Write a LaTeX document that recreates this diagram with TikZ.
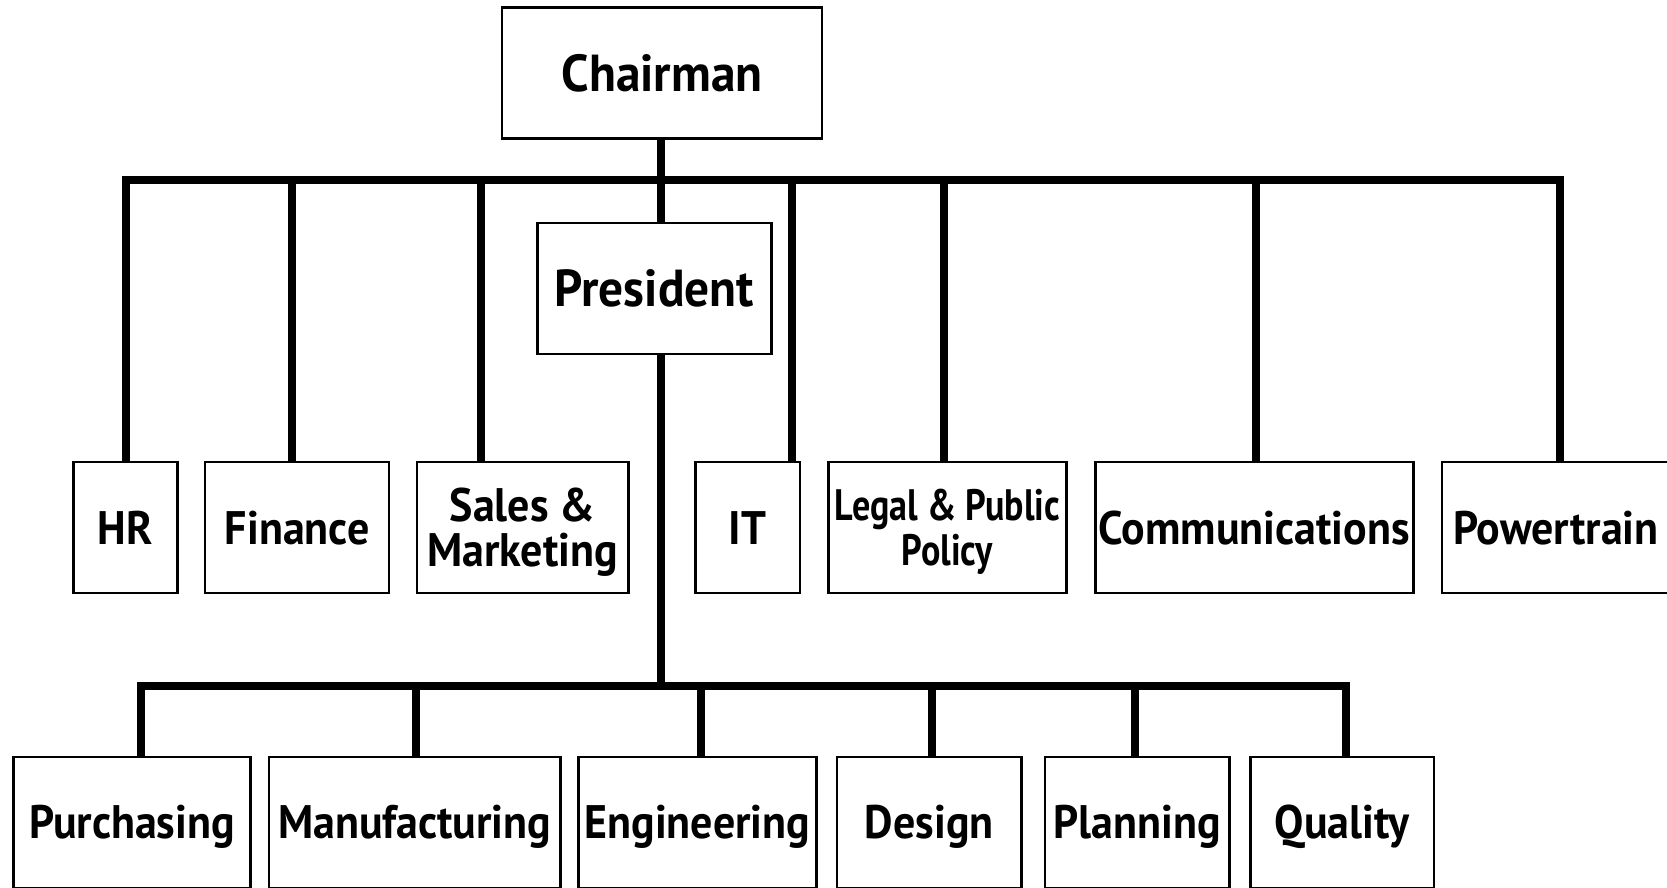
\documentclass[tikz,border=0pt]{standalone}
\usepackage{fontspec}
\newfontfamily\orgfamily[FakeStretch=0.935]{PT Sans}
\newfontfamily\orgtopfamily[FakeStretch=0.95]{PT Sans}
\newfontfamily\orgnarrowfamily[FakeStretch=0.82]{PT Sans}
\begin{document}
\begin{tikzpicture}[x=1pt,y=-1pt,
  orgbox/.style={draw=black, line width=2.5pt, fill=white, inner sep=0pt,
    minimum height=131pt, text height=33pt, text depth=0pt,
    font=\orgfamily\bfseries\fontsize{47}{45}\selectfont},
  topbox/.style={orgbox, text height=36.5pt,
    font=\orgtopfamily\bfseries\fontsize{52}{50}\selectfont},
  twoline/.style={align=center, text height=78pt, text depth=0pt},
  narrowtwoline/.style={align=center, text height=76pt, text depth=0pt,
    font=\orgnarrowfamily\bfseries\fontsize{44}{45}\selectfont},
  conn/.style={line width=8pt},
  bus/.style={line width=8pt, line cap=rect}]

\path[use as bounding box, clip] (0,0) rectangle (1667,887);
\fill[white] (0,0) rectangle (1667,887);

% top management
\node[topbox, minimum width=320pt] (chair) at (662,72.8) {Chairman};
\node[topbox, minimum width=234pt] (pres)  at (654.3,288.7) {President};

% staff functions reporting to the chairman
\node[orgbox, minimum width=104pt] (hr)    at (125.5,527.5) {HR};
\node[orgbox, minimum width=184pt] (fin)   at (297.2,527.5) {Finance};
\node[orgbox, twoline, minimum width=211.3pt] (sales) at (522.6,527.5) {Sales \&\\Marketing};
\node[orgbox, minimum width=104.5pt] (it)  at (747.5,527.5) {IT};
\node[orgbox, narrowtwoline, minimum width=238pt] (legal) at (947.5,527.5) {Legal \& Public\\Policy};
\node[orgbox, minimum width=318pt] (comms) at (1254.3,527.5) {Communications};
\node[orgbox, minimum width=228pt] (power) at (1556,527.5) {Powertrain};

% operating functions reporting to the president
\node[orgbox, minimum width=237.4pt] (purch)  at (132,822.3) {Purchasing};
\node[orgbox, minimum width=291.3pt] (manu)   at (414.7,822.3) {Manufacturing};
\node[orgbox, minimum width=238pt]   (eng)    at (697.4,822.3) {Engineering};
\node[orgbox, minimum width=184.7pt] (design) at (929.3,822.3) {Design};
\node[orgbox, minimum width=184.4pt] (plan)   at (1137.2,822.3) {Planning};
\node[orgbox, minimum width=183.6pt] (qual)   at (1342.2,822.3) {Quality};

% upper bus taps
\coordinate (tHR) at (126.3,179.5);
\coordinate (tFI) at (291.8,179.5);
\coordinate (tSA) at (481.1,179.5);
\coordinate (tCH) at (661.4,179.5);
\coordinate (tIT) at (792.3,179.5);
\coordinate (tLE) at (943.6,179.5);
\coordinate (tCO) at (1255.9,179.5);
\coordinate (tPT) at (1559.6,179.5);

% lower bus taps
\coordinate (bPU) at (140.9,686);
\coordinate (bMA) at (415.7,686);
\coordinate (bCH) at (661.3,686);
\coordinate (bEN) at (700.6,686);
\coordinate (bDE) at (932.4,686);
\coordinate (bPL) at (1135.4,686);
\coordinate (bQU) at (1346,686);

% chairman level
\draw[bus] (tHR) -- (tPT);
\draw[conn] (chair.south -| tCH) -- (pres.north -| tCH);
\foreach \t/\n in {tHR/hr, tFI/fin, tSA/sales, tIT/it, tLE/legal, tCO/comms, tPT/power}
  \draw[conn] (\t) -- (\t |- \n.north);

% president level
\draw[bus] (bPU) -- (bQU);
\draw[conn] (pres.south -| bCH) -- (bCH);
\foreach \t/\n in {bPU/purch, bMA/manu, bEN/eng, bDE/design, bPL/plan, bQU/qual}
  \draw[conn] (\t) -- (\t |- \n.north);
\end{tikzpicture}
\end{document}
